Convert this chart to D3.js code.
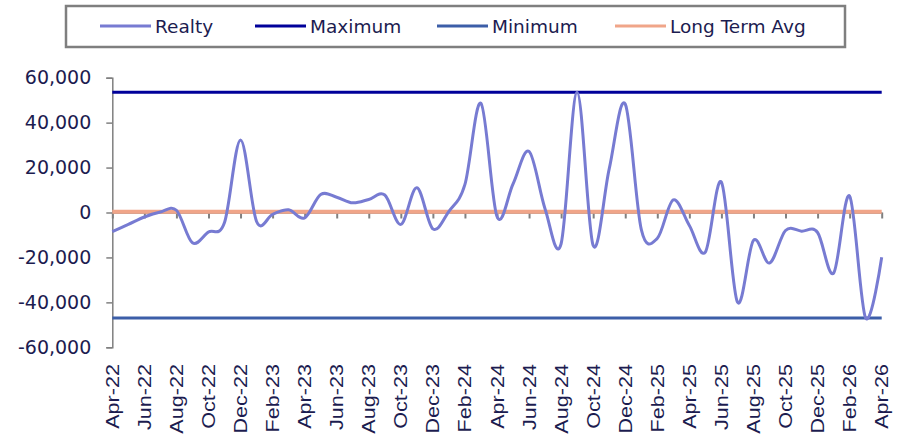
<!DOCTYPE html>
<html><head><meta charset="utf-8">
<script src="https://cdn.jsdelivr.net/npm/d3@7"></script>
<style>body{margin:0;background:#fff}svg{display:block}</style>
</head><body><svg id="c" width="901" height="434"></svg>
<script>
const months = ["Apr-22","May-22","Jun-22","Jul-22","Aug-22","Sep-22","Oct-22","Nov-22","Dec-22","Jan-23","Feb-23","Mar-23","Apr-23","May-23","Jun-23","Jul-23","Aug-23","Sep-23","Oct-23","Nov-23","Dec-23","Jan-24","Feb-24","Mar-24","Apr-24","May-24","Jun-24","Jul-24","Aug-24","Sep-24","Oct-24","Nov-24","Dec-24","Jan-25","Feb-25","Mar-25","Apr-25","May-25","Jun-25","Jul-25","Aug-25","Sep-25","Oct-25","Nov-25","Dec-25","Jan-26","Feb-26","Mar-26","Apr-26"];
const realty = [-8500,-5300,-2000,200,1000,-13500,-8700,-4500,32300,-4000,-800,1200,-2400,8000,6800,4300,5800,7800,-5300,11000,-7300,500,12500,48600,-1800,12700,27200,1600,-13900,53500,-14700,19400,48300,-7500,-11500,5600,-5800,-17600,13500,-39900,-12400,-22500,-8000,-8300,-8900,-27000,7300,-47000,-19900];
const maximum = 53500;
const minimum = -47000;
const longTermAvg = 300;
const yTicks = [-60000,-40000,-20000,0,20000,40000,60000];
const legendNames = ["Realty","Maximum","Minimum","Long Term Avg"];
const colors = {"Realty":"#777bd2","Maximum":"#00009a","Minimum":"#3c5ea8","Long Term Avg":"#f0a589"};

const svg = d3.select("#c");
const x = d3.scaleLinear().domain([0, months.length-1]).range([112.3, 881.7]);
const y = d3.scaleLinear().domain([-60000, 60000]).range([347.3, 77.7]);
const textColor = "#1c1c50";
const axisColor = "#808080";
const fmt = d => d3.format(",")(d).replace("\u2212","-");

// y axis
const ya = svg.append("g").attr("transform","translate(112.3,0)")
  .call(d3.axisLeft(y).tickValues(yTicks).tickSize(6).tickPadding(15).tickFormat(fmt));
ya.select(".domain").attr("stroke",axisColor).attr("stroke-width",1.5);
ya.selectAll(".tick line").attr("stroke",axisColor).attr("stroke-width",1.5);
ya.selectAll("text").attr("fill",textColor).style("font-family","DejaVu Sans").style("font-size","19px");

// reference lines
function hline(v, c, w){
  svg.append("line").attr("x1",x(0)).attr("x2",x(months.length-1))
    .attr("y1",y(v)).attr("y2",y(v)).attr("stroke",c).attr("stroke-width",w);
}
hline(maximum, colors["Maximum"], 3);
hline(minimum, colors["Minimum"], 3);

// x axis at zero
const xa = svg.append("g").attr("transform",`translate(0,${y(0)})`)
  .call(d3.axisBottom(x).tickValues(d3.range(0, months.length, 2)).tickSize(6).tickSizeOuter(0).tickFormat(()=>""));
xa.select(".domain").attr("stroke",axisColor).attr("stroke-width",1.5);
xa.selectAll(".tick line").attr("stroke",axisColor).attr("stroke-width",2);

hline(longTermAvg, colors["Long Term Avg"], 4);

// x labels
svg.append("g").selectAll("text").data(d3.range(0, months.length, 2)).join("text")
  .attr("transform", d=>`translate(${x(d)+6.5},364) rotate(-90) scale(1.2,1)`)
  .attr("text-anchor","end")
  .attr("fill",textColor)
  .style("font-family","Liberation Sans, Arial")
  .style("font-size","18px")
  .text(d=>months[d]);

// realty line
const line = d3.line().x((d,i)=>x(i)).y(d=>y(d)).curve(d3.curveCatmullRom.alpha(0));
svg.append("path").datum(realty).attr("d",line).attr("fill","none")
  .attr("stroke",colors["Realty"]).attr("stroke-width",3);

// legend
svg.append("rect").attr("x",66).attr("y",6).attr("width",779).attr("height",41)
  .attr("fill","#fff").attr("stroke","#7f7f7f").attr("stroke-width",2.5);
const legX = [100, 255, 437, 615];
const lg = svg.append("g").selectAll("g").data(legendNames).join("g")
  .attr("transform",(d,i)=>`translate(${legX[i]},26)`);
lg.append("line").attr("x1",0).attr("x2",51).attr("stroke",d=>colors[d]).attr("stroke-width",3);
lg.append("text").attr("x",55).attr("y",7).attr("fill",textColor)
  .style("font-family","DejaVu Sans").style("font-size","18.5px").text(d=>d);
</script></body></html>
